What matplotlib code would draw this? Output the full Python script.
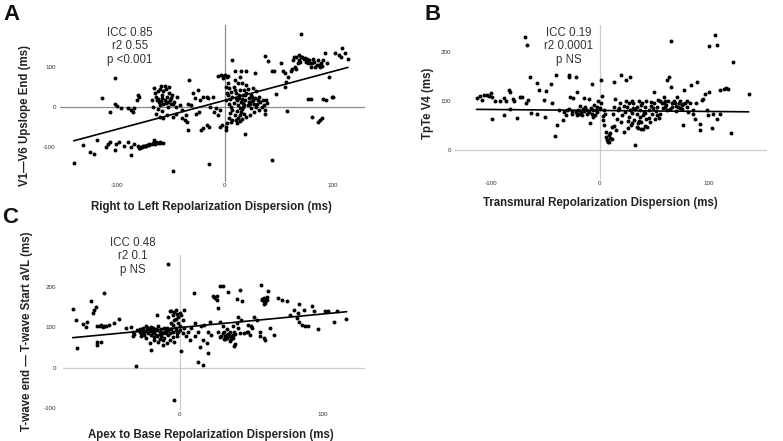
import numpy as np
import matplotlib.pyplot as plt

plt.rcParams['font.family'] = ['Liberation Sans', 'DejaVu Sans']
plt.rcParams['axes.unicode_minus'] = False

# panel A: right to left dispersion vs V1-V6 upslope end
a_pts = [
    (-140, -140), (-132, -96), (-125, -112), (-121, -118), (-119, -83), (-110, -100), (-108, -92),
    (-107, -88), (-102, -108), (-101, -93), (-98, -88), (-94, -98), (-90, -88), (-87, -121),
    (-87, -100), (-84, -92), (-81, -98), (-79, -104), (-77, -100), (-75, -98), (-73, -98),
    (-70, -94), (-67, -90), (-66, -83), (-64, -88), (-60, -90), (-57, -90), (-80, -102),
    (-78, -100), (-76, -99), (-74, -97), (-72, -96), (-70, -95), (-68, -93), (-65, -92),
    (-62, -91), (-60, -88),
    (-114, 22), (-107, -12), (-102, 7), (-102, 71), (-100, 2), (-96, -4), (-90, -4), (-87, -8),
    (-84, -4), (-82, 17), (-81, 29), (-80, 25), (-85, -12),
    (-66, 46), (-59, 52), (-56, 52), (-65, 33), (-68, 17), (-67, 0), (-63, 17), (-61, 12),
    (-60, 4), (-58, 21), (-57, 8), (-56, 17), (-54, 25), (-53, 0), (-51, 17), (-50, 21),
    (-48, 8), (-54, -21), (-57, -29), (-60, -25), (-48, -25), (-64, -17), (-45, -17), (-44, 25),
    (-40, -8), (-42, 4), (-36, -21), (-34, 8), (-33, 67), (-31, 4), (-30, 33), (-28, 21),
    (-25, 42), (-23, 17), (-20, 23), (-17, 25), (-16, 21), (-14, 0), (-11, 25), (-34, -58),
    (-35, -38), (-27, -17), (-24, -12), (-22, -57), (-20, -54), (-17, -46), (-15, -50),
    (-15, -142), (-48, -161), (-37, -33), (-40, -29), (-10, -12), (-8, -4), (-5, -8), (-3, -46),
    (-5, -50), (-6, -21), (-62, 40), (-58, 30), (-55, 10), (-52, 35), (-62, -5), (-58, -10),
    (-64, 25), (-60, 45), (-57, 40), (-55, 45), (-52, 48), (-50, 8), (-47, 12), (-45, 0),
    (-62, 20), (-59, 15), (-53, 12), (-49, 30),
    (-6, 77), (-4, 79), (-2, 77), (0, 79), (2, 75), (-2, 71), (3, 77), (7, 117), (9, 90),
    (15, 88), (20, 88), (14, 75), (28, 85),
    (1, 50), (3, 58), (4, 46), (6, 37), (7, 25), (9, 42), (10, 33), (11, 17), (13, 21), (14, 42),
    (15, 12), (17, 29), (18, 42), (19, 17), (20, 33), (21, 4), (22, 21), (23, 8), (24, -4),
    (26, 17), (27, 8), (29, 0), (31, 17), (32, -8), (35, 17), (37, -17), (38, 17), (4, 8),
    (6, 0), (7, -8), (4, -29), (7, -33), (10, -33), (14, -35), (14, -21), (15, -12), (18, -17),
    (1, -58), (1, -50), (19, -67), (17, 0), (20, 54), (26, 46), (29, 38), (32, 25), (9, 67),
    (12, 58), (16, 58), (1, 17), (3, 29), (34, 0), (37, -8), (5, 20), (8, 10), (12, 5),
    (16, -5), (19, 30), (22, 12), (25, 25), (12, -28), (9, -20), (17, 10),
    (2, 35), (5, -15), (8, 48), (11, -10), (13, 30), (16, 20), (18, 5), (21, 45), (23, -20),
    (24, 30), (27, -12), (28, 22), (30, 8), (33, 12), (36, 5), (39, 10), (2, -40), (6, -38),
    (11, -40), (16, -30), (20, -25), (25, 14), (10, 22), (14, -3),
    (37, 127), (40, 115), (44, 88), (46, 90), (47, 32), (52, 110), (54, 90), (56, 48), (57, 62),
    (56, 85), (58, -11), (59, 73), (61, 88), (63, 117), (65, 100), (66, 125), (66, 94),
    (69, 117), (69, 129), (71, 125), (71, 181), (72, 125), (73, 119), (75, 112), (76, 119),
    (77, 108), (78, 117), (80, 100), (81, 108), (83, 112), (85, 104), (86, 117), (88, 100),
    (89, 108), (91, 117), (93, 135), (95, 108), (97, 75), (102, 133), (106, 129), (109, 147),
    (111, 133), (114, 118), (108, 123), (77, 19), (80, 19), (81, -25), (86, -38), (88, -32),
    (90, -27), (91, 18), (94, 17), (99, 25), (100, 23), (44, -132),
    (70, 112), (74, 122), (79, 110), (82, 120), (84, 100), (87, 105), (90, 102), (68, 108),
    (64, 124), (62, 95),
]
a_fit_x = [-140, 114]
a_fit_y = [-85, 98]

# panel B: transmural dispersion vs TpTe V4
b_pts = [
    (-113, 107), (-110, 110), (-108, 103), (-106, 112), (-104, 113), (-102, 111), (-100, 116),
    (-99, 108), (-99, 64), (-96, 101), (-92, 101), (-88, 106), (-88, 71), (-86, 100), (-83, 123),
    (-82, 118), (-80, 105), (-79, 101), (-82, 84), (-76, 66), (-73, 109), (-71, 109), (-69, 231),
    (-67, 215), (-68, 96), (-66, 103), (-64, 149), (-63, 76), (-58, 136), (-58, 74), (-56, 122),
    (-51, 103), (-50, 68), (-49, 121), (-45, 134), (-44, 95), (-41, 28), (-40, 154), (-39, 51),
    (-37, 82), (-34, 61), (-33, 78), (-31, 71), (-30, 81), (-28, 154), (-28, 150), (-27, 108),
    (-25, 74), (-24, 107), (-22, 150), (-21, 118), (-21, 71), (-19, 74), (-17, 78), (-15, 84),
    (-14, 107), (-13, 88), (-12, 81), (-10, 105), (-9, 55), (-7, 135), (-6, 81), (-4, 71),
    (-2, 88), (-1, 101), (1, 142), (1, 95), (2, 111), (3, 61), (4, 51), (4, 81), (5, 74),
    (6, 37), (6, 27), (7, 20), (8, 17), (9, 17), (10, 24), (10, 34), (11, 47), (12, 74),
    (13, 88), (13, 139), (14, 105), (15, 41), (16, 64), (17, 81), (19, 95), (20, 57), (20, 154),
    (21, 71), (22, 37), (24, 142), (24, 101), (25, 88), (27, 68), (28, 150), (28, 81), (29, 51),
    (30, 101), (31, 95), (32, 61), (33, 10), (34, 74), (34, 88), (35, 44), (36, 101), (37, 68),
    (37, 81), (38, 57), (39, 95), (40, 71), (40, 42), (42, 88), (43, 64), (43, 101), (45, 81),
    (46, 57), (48, 74), (50, 95), (50, 118), (51, 64), (53, 88), (54, 103), (56, 74), (57, 95),
    (59, 108), (59, 95), (60, 101), (62, 81), (62, 142), (64, 149), (66, 223), (66, 128),
    (67, 88), (68, 101), (69, 95), (71, 108), (72, 88), (74, 101), (76, 91), (77, 51), (78, 122),
    (79, 95), (80, 88), (81, 78), (83, 95), (84, 132), (86, 74), (88, 64), (89, 95), (90, 138),
    (92, 41), (92, 54), (94, 103), (95, 105), (97, 115), (99, 81), (100, 71), (101, 213),
    (101, 118), (103, 44), (104, 74), (106, 235), (108, 64), (108, 215), (111, 123), (111, 74),
    (114, 125), (116, 127), (118, 125), (121, 34), (123, 179), (137, 115), (86, 81), (-28, 84),
    (-16, 71), (-12, 74), (-7, 74), (-2, 78), (-6, 68), (23, 78), (26, 60), (31, 85), (35, 55),
    (41, 78), (44, 48), (47, 90), (52, 80), (55, 66), (58, 85), (61, 92), (65, 83), (70, 80),
    (73, 96), (76, 84), (-20, 82), (-18, 90), (-10, 78), (-5, 92), (0, 85),
    (18, 85), (22, 90), (27, 95), (30, 75), (33, 83), (36, 60), (38, 92), (42, 75), (45, 65),
    (47, 98), (49, 85), (53, 72), (56, 100), (60, 88), (63, 100), (67, 95), (70, 90), (74, 85),
    (77, 93), (80, 100), (30, 55), (34, 48), (38, 42), (42, 50), (26, 45), (9, 30), (11, 22),
    (13, 50), (-25, 80), (-22, 77), (-14, 80), (-8, 86), (-3, 81), (3, 70),
]
b_fit_x = [-113, 137]
b_fit_y = [83, 78]

# panel C: apex to base dispersion vs T-wave end - T-wave start aVL
c_pts = [
    (-75, 145), (-73, 117), (-72, 48), (-68, 107), (-66, 100), (-65, 112), (-62, 164), (-61, 136),
    (-60, 143), (-59, 149), (-58, 102), (-58, 64), (-58, 56), (-56, 102), (-55, 106), (-54, 100),
    (-53, 103), (-55, 64), (-53, 183), (-52, 103), (-50, 106), (-46, 110), (-43, 120), (-38, 98),
    (-34, 100), (-33, 87), (-33, 79), (-32, 83), (-31, 4), (-28, 89), (-27, 77), (-26, 98),
    (-25, 89), (-24, 102), (-22, 85), (-21, 93), (-20, 81), (-21, 60), (-20, 44), (-19, 98),
    (-18, 69), (-18, 89), (-17, 81), (-16, 131), (-15, 102), (-15, 64), (-14, 89), (-13, 77),
    (-12, 85), (-12, 56), (-11, 98), (-11, 73), (-10, 85), (-8, 255), (-8, 93), (-8, 126),
    (-7, 69), (-7, 139), (-6, 110), (-5, 89), (-5, 131), (-4, 64), (-4, 118), (-3, 98),
    (-3, 143), (-2, 77), (-1, 126), (-1, 89), (0, 135), (0, 102), (1, 40), (2, 85), (2, 118),
    (3, 98), (3, 143), (-4, -80), (4, 77), (6, 89), (7, 69), (8, 98), (10, 183), (11, 77),
    (11, 110), (13, 15), (13, 89), (14, 52), (15, 102), (16, 7), (16, 69), (17, 106), (19, 60),
    (20, 87), (20, 37), (21, 112), (22, 81), (23, 178), (24, 174), (25, 171), (26, 168),
    (26, 176), (27, 89), (27, 147), (28, 112), (28, 202), (29, 79), (30, 202), (30, 102),
    (31, 70), (31, 89), (32, 77), (33, 81), (33, 73), (34, 84), (34, 186), (35, 77), (35, 89),
    (36, 70), (37, 103), (37, 81), (38, 54), (38, 89), (39, 59), (40, 110), (40, 169), (41, 98),
    (41, 126), (42, 85), (42, 191), (43, 118), (44, 164), (45, 85), (47, 89), (48, 106),
    (48, 87), (49, 81), (50, 102), (51, 98), (52, 125), (54, 118), (56, 77), (56, 89), (57, 205),
    (58, 166), (58, 169), (59, 164), (59, 172), (60, 160), (61, 168), (61, 174), (59, 158),
    (62, 188), (60, 69), (59, 73), (63, 98), (66, 81), (69, 172), (72, 168), (75, 164),
    (77, 131), (80, 143), (82, 122), (83, 136), (84, 158), (84, 112), (86, 106), (87, 143),
    (88, 103), (90, 102), (93, 153), (94, 139), (97, 96), (102, 139), (104, 141), (108, 112),
    (110, 140), (117, 120), (-30, 92), (-28, 95), (-24, 90), (-22, 97), (-19, 86), (-16, 92),
    (-13, 95), (-10, 90), (-6, 96), (-3, 92), (-2, 85), (0, 93), (-8, 80), (-5, 75), (-18, 75),
    (-14, 70), (-24, 74),
    (-25, 80), (-23, 95), (-20, 100), (-17, 96), (-14, 83), (-11, 88), (-9, 99), (-7, 85),
    (-5, 105), (-3, 120), (-1, 110), (1, 130), (-6, 140), (-4, 138), (-2, 132), (-20, 90),
    (-27, 85), (-16, 78), (-12, 67), (-9, 62), (30, 85), (33, 95), (36, 78), (39, 82), (32, 70),
    (35, 65), (28, 75), (37, 74),
]
c_fit_x = [-75, 117]
c_fit_y = [74, 138]

W, H = 783, 441
fig = plt.figure(figsize=(W / 100, H / 100), dpi=100)


def px_rect(left, top, right, bottom):
    return [left / W, 1 - bottom / H, (right - left) / W, (bottom - top) / H]


def draw_panel(rect, pts, fit_x, fit_y, xlim, ylim, xticks, yticks, refcolor, ypad):
    ax = fig.add_axes(rect)
    pts = np.array(pts)
    ax.axhline(0, color=refcolor, lw=0.9, zorder=1)
    ax.axvline(0, color=refcolor, lw=0.9, zorder=1)
    ax.scatter(pts[:, 0], pts[:, 1], s=8, c='black', linewidths=0, zorder=3)
    ax.plot(fit_x, fit_y, color='black', lw=1.2, zorder=4)
    ax.set_xlim(xlim)
    ax.set_ylim(ylim)
    for s in ax.spines.values():
        s.set_visible(False)
    ax.set_xticks(xticks)
    ax.set_yticks(yticks)
    ax.tick_params(length=0, labelsize=4.5, colors='#333333')
    ax.tick_params(axis='x', pad=1)
    ax.tick_params(axis='y', pad=ypad)
    ax.set_facecolor('none')
    return ax


draw_panel(px_rect(60, 25, 365, 182), a_pts, a_fit_x, a_fit_y,
           (-153, 130), (-188, 204), [-100, 0, 100], [-100, 0, 100], '#8a8a8a', 3)
draw_panel(px_rect(455, 25, 767, 180), b_pts, b_fit_x, b_fit_y,
           (-133, 154), (-61, 255), [-100, 0, 100], [0, 100, 200], '#cccccc', 3)
draw_panel(px_rect(63, 255, 365, 411), c_pts, c_fit_x, c_fit_y,
           (-82, 130), (-107, 278), [0, 100], [-100, 0, 100, 200], '#cccccc', 5)


def ftext(x, y, s, **kw):
    fig.text(x / W, 1 - y / H, s, **kw)


lab = dict(fontsize=8.3, fontweight='bold', color='#222222', ha='center', va='center')
ftext(211, 207, 'Right to Left Repolarization Dispersion (ms)', **lab)
ftext(25, 115, 'V1\u2014V6 Upslope End (ms)', rotation=90, **lab)
ftext(600, 203, 'Transmural Repolarization Dispersion (ms)', **lab)
ftext(428, 103, 'TpTe V4 (ms)', rotation=90, **lab)
ftext(211, 435, 'Apex to Base Repolarization Dispersion (ms)', **lab)
ftext(27, 331, 'T-wave end \u2014 T-wave Start aVL (ms)', rotation=90, **lab)

st = dict(fontsize=8.3, color='#333333', ha='center', va='top', linespacing=1.15)
ftext(130, 27, 'ICC 0.85\nr2 0.55\np <0.001', **st)
ftext(569, 27, 'ICC 0.19\nr2 0.0001\np NS', **st)
ftext(133, 237, 'ICC 0.48\nr2 0.1\np NS', **st)

let = dict(fontsize=16, fontweight='bold', color='#111111', ha='center', va='center')
ftext(12, 15, 'A', **let)
ftext(433, 15, 'B', **let)
ftext(10, 218, 'C', **let)

fig.savefig('out.png', dpi=100)
